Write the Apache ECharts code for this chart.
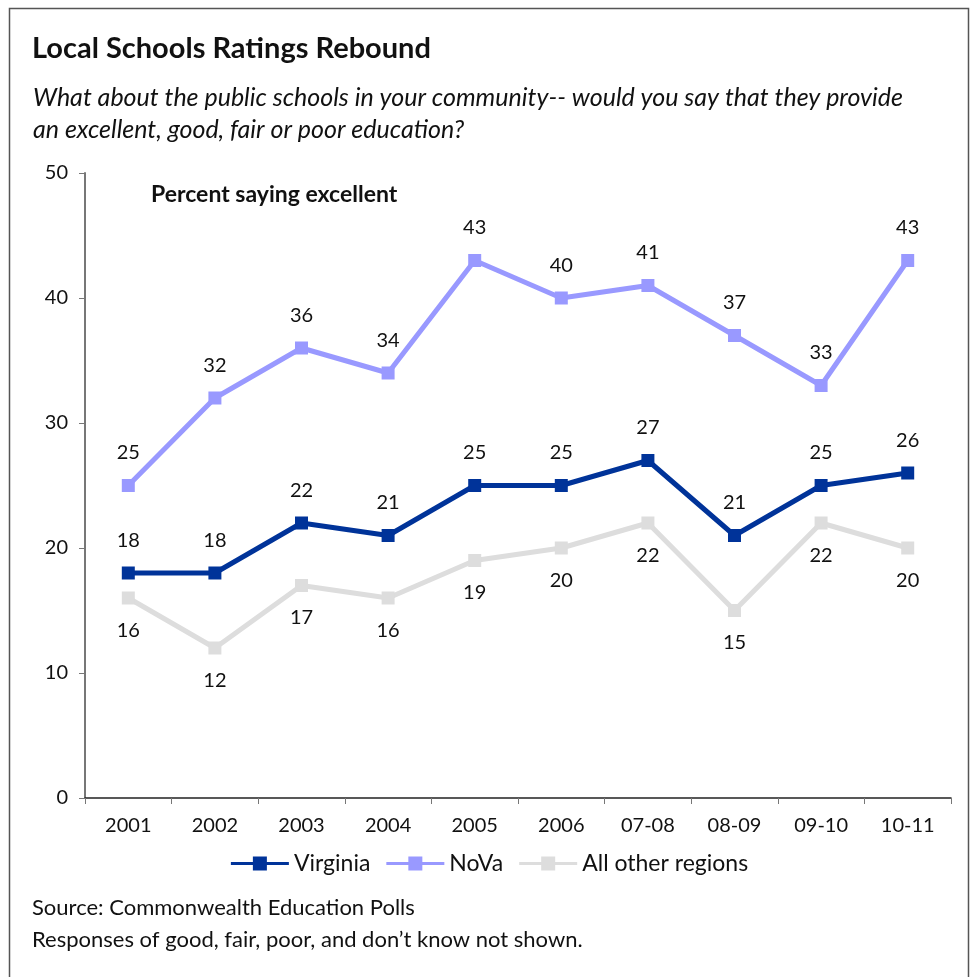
<!DOCTYPE html>
<html>
<head>
<meta charset="utf-8">
<script src="https://cdn.jsdelivr.net/npm/echarts@6/dist/echarts.min.js"></script>
<style>
  html, body { margin: 0; padding: 0; background: #fff; }
  #chart { width: 979px; height: 977px; }
</style>
</head>
<body>
<div id="chart"></div>
<script>
// Survey periods and "excellent" ratings by region
const categories = ['2001', '2002', '2003', '2004', '2005', '2006', '07-08', '08-09', '09-10', '10-11'];
const virginia = [18, 18, 22, 21, 25, 25, 27, 21, 25, 26];
const nova = [25, 32, 36, 34, 43, 40, 41, 37, 33, 43];
const otherRegions = [16, 12, 17, 16, 19, 20, 22, 15, 22, 20];
const yTicks = [0, 10, 20, 30, 40, 50];

const FONT = 'Lato, "Open Sans", sans-serif';
const chart = echarts.init(document.getElementById('chart'));

function lineSeries(name, data, color, labelPos, z) {
  return {
    name: name,
    type: 'line',
    data: data,
    z: z,
    symbol: 'rect',
    symbolSize: 13,
    lineStyle: { color: color, width: 5 },
    itemStyle: { color: color },
    label: {
      show: true,
      position: labelPos,
      distance: 16,
      color: '#111',
      fontFamily: FONT,
      fontSize: 20
    },
    animation: false
  };
}

chart.setOption({
  animation: false,
  textStyle: { fontFamily: FONT },
  grid: { left: 85, right: 28, top: 173, bottom: 179 },
  graphic: [
    {
      type: 'rect',
      shape: { x: 9.5, y: 8.5, width: 959, height: 1000 },
      style: { fill: 'none', stroke: '#555', lineWidth: 1.5 }
    },
    {
      type: 'text', left: 32, top: 34,
      style: { text: 'Local Schools Ratings Rebound', font: 'bold 29px ' + FONT, fill: '#111' }
    },
    {
      type: 'text', left: 33, top: 82,
      style: {
        text: 'What about the public schools in your community-- would you say that they provide\nan excellent, good, fair or poor education?',
        font: 'italic 25px ' + FONT, lineHeight: 32, fill: '#111'
      }
    },
    {
      type: 'text', left: 151, top: 183,
      style: { text: 'Percent saying excellent', font: 'bold 23px ' + FONT, fill: '#111' }
    },
    {
      type: 'text', left: 32, top: 892,
      style: {
        text: 'Source: Commonwealth Education Polls\nResponses of good, fair, poor, and don\u2019t know not shown.',
        font: '22px ' + FONT, lineHeight: 32, fill: '#111'
      }
    }
  ],
  legend: {
    top: 847,
    left: 'center',
    itemWidth: 58,
    itemHeight: 14,
    itemGap: 16,
    icon: 'path://M0,5.5 L22,5.5 L22,0 L36,0 L36,5.5 L58,5.5 L58,8.5 L36,8.5 L36,14 L22,14 L22,8.5 L0,8.5 Z',
    textStyle: { fontFamily: FONT, fontSize: 23, color: '#111' },
    data: ['Virginia', 'NoVa', 'All other regions']
  },
  xAxis: {
    type: 'category',
    data: categories,
    boundaryGap: true,
    axisLine: { lineStyle: { color: '#222', width: 1.5 } },
    axisTick: { show: true, length: 6, alignWithLabel: false, lineStyle: { color: '#777' } },
    axisLabel: { color: '#111', fontSize: 20, margin: 18, fontFamily: FONT },
    splitLine: { show: false }
  },
  yAxis: {
    type: 'value',
    min: yTicks[0],
    max: yTicks[yTicks.length - 1],
    interval: yTicks[1] - yTicks[0],
    axisLine: { show: true, lineStyle: { color: '#777', width: 2 } },
    axisTick: { show: true, length: 6, lineStyle: { color: '#777' } },
    axisLabel: { color: '#111', fontSize: 20, margin: 17, fontFamily: FONT },
    splitLine: { show: false }
  },
  series: [
    lineSeries('Virginia', virginia, '#003399', 'top', 4),
    lineSeries('NoVa', nova, '#9999FF', 'top', 3),
    lineSeries('All other regions', otherRegions, '#DDDDDD', 'bottom', 2)
  ]
});
</script>
</body>
</html>
